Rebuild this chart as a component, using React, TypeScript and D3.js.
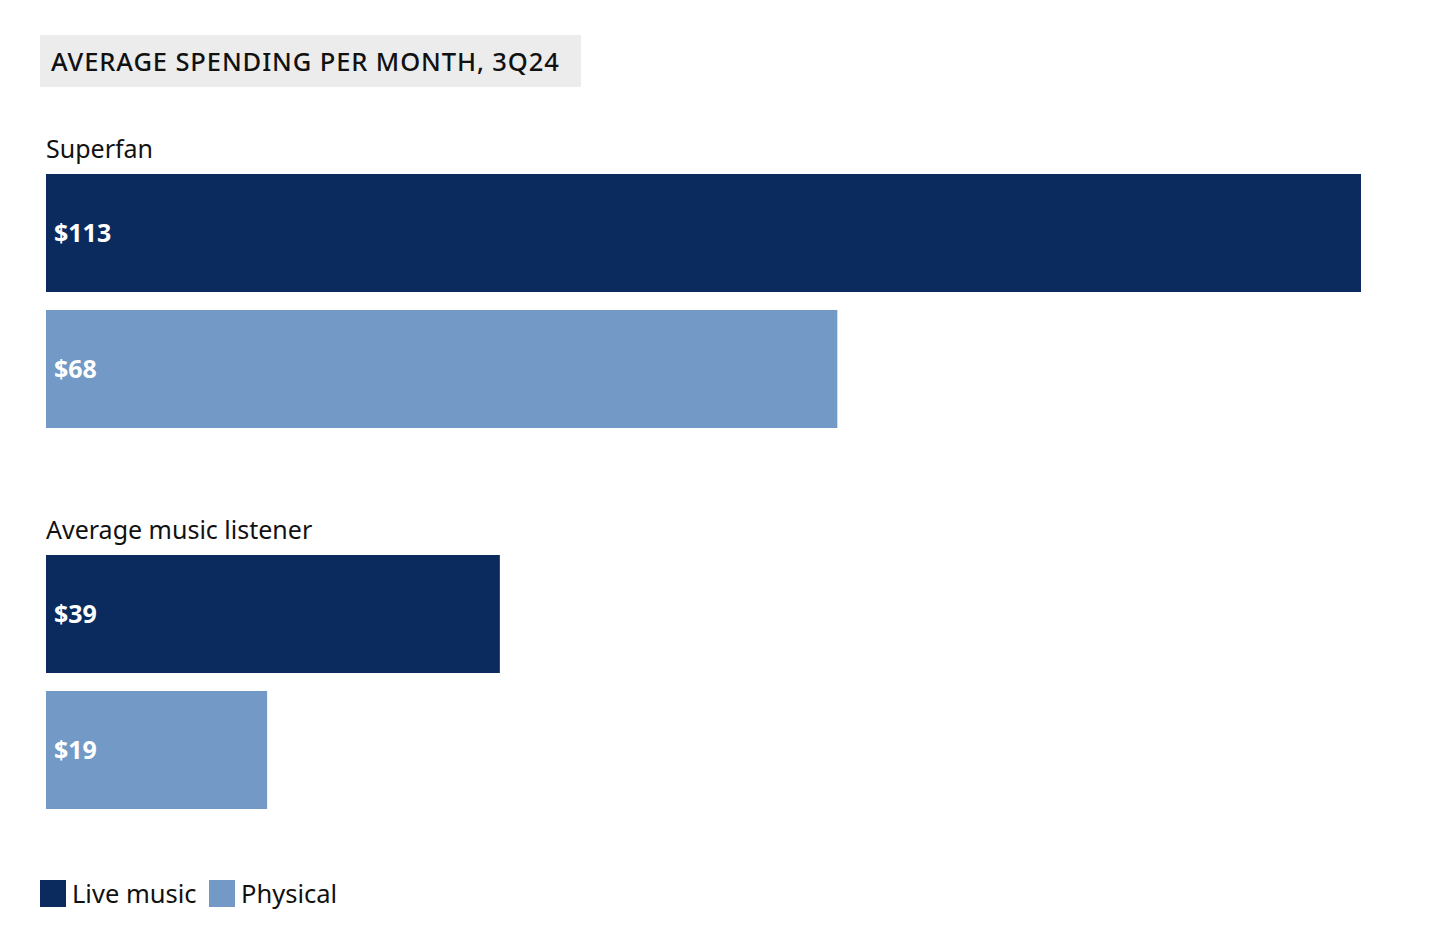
import React from "react";
import * as d3 from "d3";

const groups = ["Superfan", "Average music listener"];
const series = ["Live music", "Physical"];
// values per group: [Live music, Physical]
const superfanValues = [113, 68];
const averageValues = [39, 19];
const colors = ["#0b2b5e", "#7399c6"];
const title = "AVERAGE SPENDING PER MONTH, 3Q24";

const W = 1456;
const H = 942;

export default function App() {
  const values = [superfanValues, averageValues];
  const x = d3.scaleLinear().domain([0, 113]).range([46, 1361]);
  const yGroup = d3.scaleBand<string>().domain(groups).range([174, 174 + 381 * 2]).paddingInner(0).paddingOuter(0);
  const yInner = d3.scaleBand<string>().domain(series).range([0, 254]).paddingInner(18 / 136).paddingOuter(0);
  const font = "'Noto Sans', 'Open Sans', sans-serif";
  return (
    <svg width={W} height={H} style={{ position: "absolute", left: 0, top: 0, background: "#fff" }} fontFamily={font}>
      <rect x={40} y={35} width={541} height={52} fill="#ececec" />
      <text x={51} y={71} fontSize={25.5} fill="#111" letterSpacing={0.9} fontWeight={500}>{title}</text>
      {groups.map((g, gi) => {
        const gy = yGroup(g)!;
        return (
          <g key={g}>
            <text x={46} y={gy - 16} fontSize={25} fill="#111">{g}</text>
            {series.map((s, si) => {
              const v = values[gi][si];
              const by = gy + yInner(s)!;
              return (
                <g key={s}>
                  <rect x={x(0)} y={by} width={x(v) - x(0)} height={yInner.bandwidth()} fill={colors[si]} />
                  <text x={x(0) + 8} y={by + yInner.bandwidth() / 2 + 9} fontSize={25} fontWeight={700} fill="#fff">${v}</text>
                </g>
              );
            })}
          </g>
        );
      })}
      {series.map((s, si) => {
        const lx = si === 0 ? 40 : 209;
        return (
          <g key={s}>
            <rect x={lx} y={880} width={26} height={27} fill={colors[si]} />
            <text x={lx + 32} y={903} fontSize={25.5} fill="#111">{s}</text>
          </g>
        );
      })}
    </svg>
  );
}
